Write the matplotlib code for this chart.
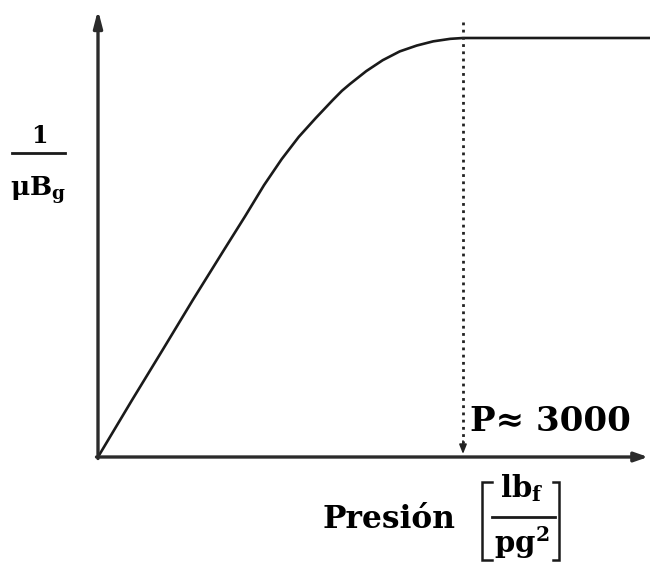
import matplotlib
matplotlib.use("Agg")
import matplotlib.pyplot as plt
from matplotlib.lines import Line2D

# Gas mobility term 1/(mu*Bg) versus pressure (psi), normalised to the plateau
pressure = [0, 280, 530, 780, 1035, 1210, 1365, 1510, 1650, 1790, 1930, 2005,
            2070, 2205, 2340, 2480, 2620, 2755, 2895, 3000, 4540]
inv_mu_bg = [0.0, 0.136, 0.255, 0.375, 0.494, 0.575, 0.649, 0.711, 0.764, 0.809,
             0.852, 0.874, 0.890, 0.921, 0.947, 0.968, 0.982, 0.992, 0.998, 1.0, 1.0]
p_marker = 3000
marker_label = "P≈ 3000"
x_label = "Presión"

W, H = 650, 562
fig = plt.figure(figsize=(W / 100, H / 100), dpi=100)
fig.patch.set_facecolor("white")

# axes: origin at (98, 457) px, 3000 psi spans 365 px, plateau of 1 spans 419 px
x0, y0 = 98, 457
px_per_psi = 365 / 3000
px_per_unit = 419
ax = fig.add_axes([x0 / W, (H - y0) / H, (W - x0) / W, y0 / H])
ax.set_xlim(0, (W - x0) / px_per_psi)
ax.set_ylim(0, y0 / px_per_unit)
ax.axis("off")

axis_col = "#2b2b2b"
# coordinate axes with arrow heads
ax.annotate("", xy=((648 - x0) / px_per_psi, 0), xytext=(-1.5 / px_per_psi, 0),
            arrowprops=dict(arrowstyle="-|>,head_length=0.8,head_width=0.28",
                            lw=2.4, color=axis_col, shrinkA=0, shrinkB=0),
            annotation_clip=False)
ax.annotate("", xy=(0, (y0 - 10) / px_per_unit), xytext=(0, -1.5 / px_per_unit),
            arrowprops=dict(arrowstyle="-|>,head_length=1.0,head_width=0.26",
                            lw=2.4, color=axis_col, shrinkA=0, shrinkB=0),
            annotation_clip=False)

# the curve
ax.plot(pressure, inv_mu_bg, color="#1a1a1a", lw=1.9, solid_capstyle="round",
        solid_joinstyle="round", clip_on=False)

# dotted marker at the plateau pressure
ax.plot([p_marker, p_marker], [(y0 - 22) / px_per_unit, 14 / px_per_unit],
        color="#222222", lw=2.0, ls=(0, (1.0, 1.6)), clip_on=False)
ax.annotate("", xy=(p_marker, 3 / px_per_unit), xytext=(p_marker, 16 / px_per_unit),
            arrowprops=dict(arrowstyle="-|>,head_length=0.55,head_width=0.22",
                            lw=1.2, color="#222222", shrinkA=0, shrinkB=0),
            annotation_clip=False)

serif = "DejaVu Serif"
plt.rcParams["mathtext.fontset"] = "dejavuserif"


def fx(px):
    return px / W


def fy(py):
    return 1 - py / H


def hline(xa, xb, y, lw=2.0):
    fig.add_artist(Line2D([fx(xa), fx(xb)], [fy(y), fy(y)], color="#1a1a1a",
                          lw=lw, transform=fig.transFigure))


def seg(xs, ys, lw=1.8):
    fig.add_artist(Line2D([fx(x) for x in xs], [fy(y) for y in ys], color="#1a1a1a",
                          lw=lw, transform=fig.transFigure, solid_joinstyle="miter"))


# y-axis label 1 / (mu Bg)
fig.text(fx(39), fy(143), "1", family=serif, weight="bold", fontsize=17,
         ha="center", va="baseline")
hline(12, 65, 153)
fig.text(fx(38), fy(196), r"$\mathbf{\mu B_g}$", fontsize=19,
         ha="center", va="baseline")

# marker value
fig.text(fx(470), fy(431), marker_label, family=serif, weight="bold",
         fontsize=24.5, ha="left", va="baseline")

# x-axis label with unit fraction in brackets
fig.text(fx(323), fy(528), x_label, family=serif, weight="bold",
         fontsize=22.5, ha="left", va="baseline")
fig.text(fx(522), fy(497), r"$\mathbf{lb_f}$", fontsize=21,
         ha="center", va="baseline")
hline(492, 555, 517)
fig.text(fx(522), fy(553), r"$\mathbf{pg^2}$", fontsize=21,
         ha="center", va="baseline")
seg([492, 482, 482, 492], [482, 482, 560, 560])
seg([553, 559, 559, 553], [482, 482, 560, 560])

fig.savefig("out.png", dpi=100, facecolor="white")
